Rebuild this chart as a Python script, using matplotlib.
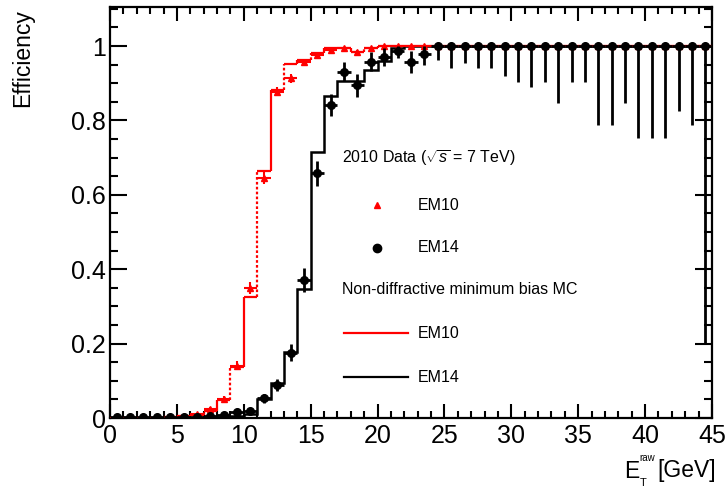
import numpy as np
import matplotlib
matplotlib.use("Agg")
import matplotlib.pyplot as plt
from matplotlib.lines import Line2D
from matplotlib.ticker import MultipleLocator, FuncFormatter

plt.rcParams["font.family"] = ["Liberation Sans", "DejaVu Sans"]
plt.rcParams["mathtext.fontset"] = "custom"
plt.rcParams["mathtext.rm"] = "Liberation Sans"
plt.rcParams["mathtext.it"] = "Liberation Sans:italic"

# 1 GeV bins from 0 to 45 GeV
bin_edges = np.arange(0, 46)
bin_centers = 0.5 * (bin_edges[:-1] + bin_edges[1:])

# 2010 data, EM10 trigger efficiency
em10_data = [0.0, 0.0, 0.0, 0.0, 0.003, 0.005, 0.010, 0.024, 0.050, 0.140,
             0.349, 0.645, 0.877, 0.913, 0.958, 0.975, 0.990, 0.995, 0.985, 0.995] + [1.0] * 25
em10_err = [0.002] * 4 + [0.002, 0.003, 0.004, 0.006, 0.008, 0.012, 0.016, 0.017,
                          0.012, 0.012, 0.008, 0.006, 0.004, 0.003, 0.005, 0.003] + [0.002] * 25

# 2010 data, EM14 trigger efficiency
em14_data = [0.002, 0.002, 0.002, 0.002, 0.002, 0.003, 0.004, 0.006, 0.008, 0.015, 0.020,
             0.053, 0.089, 0.176, 0.371, 0.658, 0.841, 0.931, 0.895, 0.958, 0.971, 0.987,
             0.958, 0.978] + [1.0] * 21
em14_err_lo = [0.002] * 5 + [0.003, 0.003, 0.004, 0.005, 0.006, 0.007,
                             0.012, 0.016, 0.022, 0.032, 0.034, 0.030, 0.026, 0.031, 0.026,
                             0.024, 0.020, 0.030, 0.028,
                             0.038, 0.060, 0.045, 0.060, 0.060, 0.081, 0.096, 0.109, 0.096,
                             0.152, 0.096, 0.096, 0.211, 0.211, 0.152, 0.246, 0.246, 0.246,
                             0.174, 0.211, 0.800]

# Non-diffractive minimum bias MC
em10_mc = [0.0, 0.0, 0.0, 0.0, 0.004, 0.005, 0.008, 0.018, 0.048, 0.138,
           0.326, 0.665, 0.882, 0.953, 0.963, 0.980, 0.994, 0.996, 0.985, 0.995] + [1.0] * 25
em14_mc = [0.0] * 8 + [0.003, 0.006, 0.010,
                       0.050, 0.095, 0.178, 0.347, 0.716, 0.866, 0.906, 0.906, 0.935,
                       0.960, 0.995] + [1.0] * 23

em10_data = np.array(em10_data)
em10_err = np.array(em10_err)
em14_data = np.array(em14_data)
em14_err_lo = np.array(em14_err_lo)
em14_err_hi = np.minimum(em14_err_lo, 1.0 - em14_data)
em10_err_hi = np.minimum(em10_err, 1.0 - em10_data)
em10_mc = np.array(em10_mc)
em14_mc = np.array(em14_mc)

W, H = 725, 492
fig = plt.figure(figsize=(W / 100, H / 100), dpi=100)
ax = fig.add_axes([110 / W, 1 - 418 / H, 602 / W, 411 / H])
ax.set_xlim(0, 45)
ax.set_ylim(0, 1.105)

RED = "#ff0000"

# EM10 MC histogram: flat tops solid, risers alternate solid / dotted
ax.hlines(em10_mc, bin_edges[:-1], bin_edges[1:], colors=RED, linewidth=1.6, zorder=2)
inner = bin_edges[1:-1]
styles = [(0, (1.2, 1.0)) if int(e) % 2 == 1 else "solid" for e in inner]
ax.vlines(inner, em10_mc[:-1], em10_mc[1:], colors=RED, linewidth=1.6,
          linestyles=styles, zorder=2)

# EM14 MC histogram
ax.stairs(em14_mc, bin_edges, color="black", linewidth=1.8, zorder=3)

# Data points
ax.errorbar(bin_centers, em10_data, yerr=[em10_err, em10_err_hi], xerr=0.5,
            fmt="^", color=RED, ms=4.5, elinewidth=1.5, capsize=0, zorder=4)
ax.errorbar(bin_centers, em14_data, yerr=[em14_err_lo, em14_err_hi], xerr=0.5,
            fmt="o", color="black", ms=5.5, elinewidth=2.0, capsize=0, zorder=5)

# Axes styling
for s in ax.spines.values():
    s.set_linewidth(1.6)
ax.xaxis.set_major_locator(MultipleLocator(5))
ax.xaxis.set_minor_locator(MultipleLocator(1))
ax.yaxis.set_major_locator(MultipleLocator(0.2))
ax.yaxis.set_minor_locator(MultipleLocator(0.05))
ax.yaxis.set_major_formatter(FuncFormatter(lambda v, p: "%g" % round(v, 2)))
ax.tick_params(which="both", direction="in", top=True, right=True, width=1.5,
               labelsize=18)
ax.tick_params(axis="x", which="major", length=10, pad=4)
ax.tick_params(axis="x", which="minor", length=5)
ax.tick_params(axis="y", which="major", length=12.5, pad=3)
ax.tick_params(axis="y", which="minor", length=6)


def fx(x):
    return x / W


def fy(y):
    return 1 - y / H


# Axis titles
fig.text(22.5 / W, 1 - 9 / H, "Efficiency", rotation=90, ha="center", va="top",
         fontsize=16.5)
fig.text(fx(716), fy(471), "[GeV]", ha="right", va="center", fontsize=16.5)
fig.text(fx(639), fy(471), "E", ha="right", va="center", fontsize=16.5)
fig.text(fx(639.5), fy(458), "raw", ha="left", va="center", fontsize=7)
fig.text(fx(639.5), fy(483), "T", ha="left", va="center", fontsize=8)

# Legend
fs = 11.5
fig.text(fx(342), fy(158), r"2010 Data ($\sqrt{s}$ = 7 TeV)", ha="left", va="center",
         fontsize=fs)
fig.add_artist(Line2D([fx(377)], [fy(205)], marker="^", color=RED, ms=5,
                      linestyle="none", transform=fig.transFigure))
fig.text(fx(418), fy(205), "EM10", ha="left", va="center", fontsize=fs)
fig.add_artist(Line2D([fx(377)], [fy(247.5)], marker="o", color="black", ms=6,
                      linestyle="none", transform=fig.transFigure))
fig.text(fx(418), fy(247.5), "EM14", ha="left", va="center", fontsize=fs)
fig.text(fx(342), fy(290), "Non-diffractive minimum bias MC", ha="left", va="center",
         fontsize=fs)
fig.add_artist(Line2D([fx(344), fx(408)], [fy(333), fy(333)], color=RED, lw=1.6,
                      transform=fig.transFigure))
fig.text(fx(418), fy(333), "EM10", ha="left", va="center", fontsize=fs)
fig.add_artist(Line2D([fx(344), fx(408)], [fy(377), fy(377)], color="black", lw=1.6,
                      transform=fig.transFigure))
fig.text(fx(418), fy(377), "EM14", ha="left", va="center", fontsize=fs)

fig.savefig("out.png", dpi=100)
